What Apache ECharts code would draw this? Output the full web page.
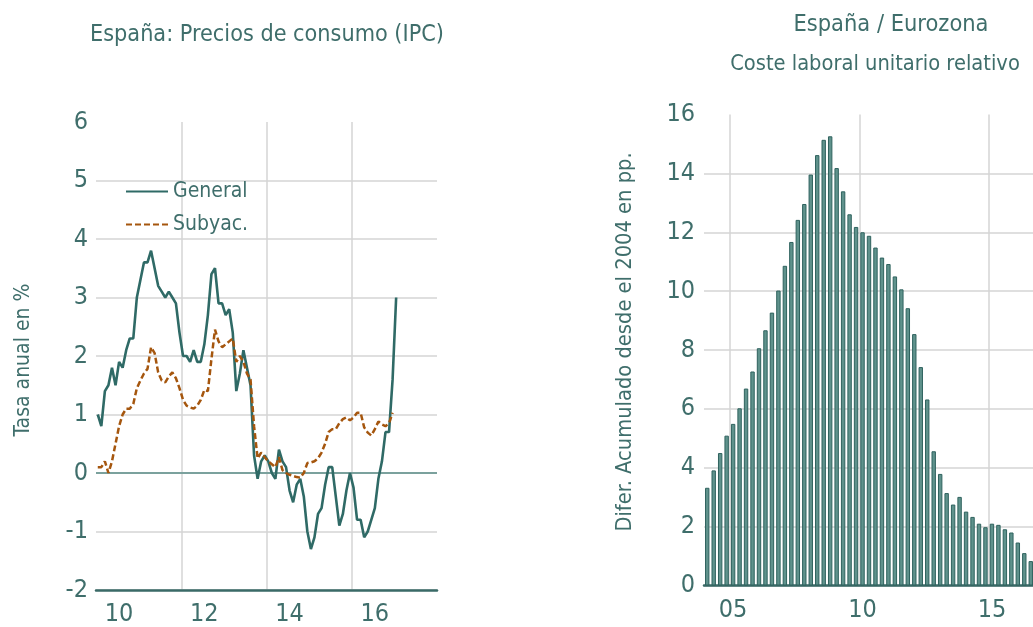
<!DOCTYPE html>
<html>
<head>
  <meta charset="utf-8">
  <title>España: IPC y coste laboral unitario relativo</title>
  <script src="https://cdn.jsdelivr.net/npm/echarts@6/dist/echarts.min.js"></script>
  <style>
    html, body { margin: 0; padding: 0; background: #fff; overflow: hidden; }
    /* el gráfico de la derecha queda cortado por el borde, como en el original */
    #chart { width: 1040px; height: 627px; }
  </style>
</head>
<body>
  <div id="chart"></div>

  <script>
    // IPC general, tasa anual en %, ene-2010 a ene-2017
    const general = [
      1.0, 0.8, 1.4, 1.5, 1.8, 1.5, 1.9, 1.8, 2.1, 2.3, 2.3, 3.0,
      3.3, 3.6, 3.6, 3.8, 3.5, 3.2, 3.1, 3.0, 3.1, 3.0, 2.9, 2.4,
      2.0, 2.0, 1.9, 2.1, 1.9, 1.9, 2.2, 2.7, 3.4, 3.5, 2.9, 2.9,
      2.7, 2.8, 2.4, 1.4, 1.7, 2.1, 1.8, 1.5, 0.3, -0.1, 0.2, 0.3,
      0.2, 0.0, -0.1, 0.4, 0.2, 0.1, -0.3, -0.5, -0.2, -0.1, -0.4, -1.0,
      -1.3, -1.1, -0.7, -0.6, -0.2, 0.1, 0.1, -0.4, -0.9, -0.7, -0.3, 0.0,
      -0.25, -0.8, -0.8, -1.1, -1.0, -0.8, -0.6, -0.1, 0.2, 0.7, 0.7, 1.6,
      3.0
    ];
    // IPC subyacente, ene-2010 a dic-2016
    const subyacente = [
      0.1, 0.1, 0.2, 0.0, 0.2, 0.5, 0.8, 1.0, 1.1, 1.1, 1.18, 1.45,
      1.58, 1.7, 1.78, 2.15, 2.05, 1.72, 1.58, 1.55, 1.65, 1.72, 1.62, 1.45,
      1.25, 1.15, 1.12, 1.1, 1.15, 1.25, 1.42, 1.4, 1.95, 2.45, 2.25, 2.15,
      2.2, 2.25, 2.3, 1.9, 2.0, 1.9, 1.7, 1.6, 0.8, 0.25, 0.35, 0.27,
      0.2, 0.15, 0.1, 0.27, 0.05, 0.0, -0.03, -0.05, -0.07, -0.08, 0.0, 0.17,
      0.18, 0.2, 0.25, 0.35, 0.5, 0.7, 0.75, 0.75, 0.85, 0.92, 0.95, 0.9,
      0.95, 1.03, 1.03, 0.78, 0.69, 0.64, 0.75, 0.88, 0.83, 0.8, 0.85, 1.03
    ];
    const anosIpc = ['10', '11', '12', '13', '14', '15', '16', '17'];
    const meses = ['ene', 'feb', 'mar', 'abr', 'may', 'jun', 'jul', 'ago', 'sep', 'oct', 'nov', 'dic'];

    // España / Eurozona: CLU relativo, difer. acumulada desde 2004 en pp., trimestral desde 2004 T1
    const cluRelativo = [
      3.32, 3.91, 4.50, 5.09, 5.49, 6.02, 6.69, 7.27, 8.06, 8.67, 9.27, 10.02,
      10.86, 11.67, 12.42, 12.96, 13.96, 14.62, 15.14, 15.26, 14.18, 13.39, 12.61, 12.18,
      12.0, 11.88, 11.48, 11.14, 10.92, 10.5, 10.06, 9.42, 8.54, 7.42, 6.32, 4.56,
      3.79, 3.14, 2.75, 3.01, 2.51, 2.33, 2.10, 1.98, 2.10, 2.06, 1.91, 1.80,
      1.46, 1.10, 0.83
    ];
    const anosClu = ['04', '05', '06', '07', '08', '09', '10', '11', '12', '13', '14', '15', '16'];
    const trimestres = ['T1', 'T2', 'T3', 'T4'];

    // categorias de los ejes
    let mesesIpc = [];
    anosIpc.forEach(function (a) { meses.forEach(function (m) { mesesIpc.push(m + ' ' + a); }); });
    let trimClu = [];
    anosClu.forEach(function (a) { trimestres.forEach(function (t) { trimClu.push(t + ' ' + a); }); });
    trimClu = trimClu.slice(0, cluRelativo.length);

    const fuente = '"Liberation Sans Narrow", "DejaVu Sans Condensed", "Roboto", sans-serif';
    const colorTexto = '#3f6e6b';
    const colorEje = '#3a6a67';
    const colorRejilla = '#d4d4d4';

    let myChart = echarts.init(document.getElementById('chart'));

    let option = {
      animation: false,
      textStyle: { fontFamily: fuente },
      title: [
        {
          text: 'España: Precios de consumo (IPC)',
          left: 262, top: 18, textAlign: 'center',
          textStyle: { color: colorTexto, fontSize: 23.2, fontWeight: 'normal', fontFamily: fuente }
        },
        {
          text: 'España / Eurozona',
          left: 886, top: 8, textAlign: 'center',
          textStyle: { color: colorTexto, fontSize: 23.4, fontWeight: 'normal', fontFamily: fuente }
        },
        {
          text: 'Coste laboral unitario relativo',
          left: 870, top: 48, textAlign: 'center',
          textStyle: { color: colorTexto, fontSize: 21.7, fontWeight: 'normal', fontFamily: fuente }
        }
      ],
      legend: {
        orient: 'vertical',
        left: 120, top: 176,
        itemWidth: 42, itemHeight: 14, itemGap: 12,
        data: ['General', 'Subyac.'],
        itemStyle: { opacity: 0 },
        textStyle: { color: colorTexto, fontSize: 21, fontFamily: fuente }
      },
      grid: [
        { left: 96, top: 122, width: 341, height: 471 },
        { left: 704, top: 114.5, width: 330, height: 471 }
      ],
      xAxis: [
        {
          type: 'category', gridIndex: 0, data: mesesIpc, boundaryGap: true,
          axisLine: { onZero: false, lineStyle: { color: colorEje, width: 2.5 } },
          axisTick: {
            interval: function (i) { return i % 12 === 0; },
            length: 6, lineStyle: { color: colorEje, width: 1.5 }
          },
          axisLabel: {
            interval: function (i) { return i % 24 === 6; },
            formatter: function (v) { return v.slice(-2); },
            color: colorTexto, fontSize: 25, margin: 12, fontFamily: fuente
          },
          splitLine: {
            show: true, showMaxLine: false,
            interval: function (i) { return i > 0 && i % 24 === 0; },
            lineStyle: { color: colorRejilla, width: 1.5 }
          }
        },
        {
          type: 'category', gridIndex: 1, data: trimClu, boundaryGap: true,
          axisLine: { onZero: false, lineStyle: { color: colorEje, width: 2.5 } },
          axisTick: {
            alignWithLabel: true,
            interval: function (i) { return i % 20 === 4; },
            length: 6, lineStyle: { color: colorEje, width: 1.5 }
          },
          axisLabel: {
            interval: function (i) { return i % 20 === 4; },
            formatter: function (v) { return v.slice(-2); },
            color: colorTexto, fontSize: 25, margin: 12, fontFamily: fuente
          },
          splitLine: {
            show: true, showMaxLine: false,
            interval: function (i) { return i % 20 === 4; },
            lineStyle: { color: colorRejilla, width: 1.5 }
          }
        }
      ],
      yAxis: [
        {
          type: 'value', gridIndex: 0, min: -2, max: 6, interval: 1,
          name: 'Tasa anual en %', nameLocation: 'middle', nameGap: 62,
          nameTextStyle: { color: colorTexto, fontSize: 21, fontFamily: fuente, padding: [0, 8, 0, 0] },
          axisLine: { show: false }, axisTick: { show: false },
          axisLabel: { color: colorTexto, fontSize: 25, margin: 8, fontFamily: fuente },
          splitLine: { showMaxLine: false, lineStyle: { color: colorRejilla, width: 1.5 } }
        },
        {
          type: 'value', gridIndex: 1, min: 0, max: 16, interval: 2,
          name: 'Difer. Acumulado desde el 2004 en pp.', nameLocation: 'middle', nameGap: 68,
          nameTextStyle: { color: colorTexto, fontSize: 21.7, fontFamily: fuente, padding: [0, 0, 0, 16] },
          axisLine: { show: false }, axisTick: { show: false },
          axisLabel: { color: colorTexto, fontSize: 25, margin: 9, fontFamily: fuente },
          splitLine: { showMaxLine: false, lineStyle: { color: colorRejilla, width: 1.5 } }
        }
      ],
      series: [
        {
          name: 'General', type: 'line', xAxisIndex: 0, yAxisIndex: 0,
          data: general, symbol: 'none',
          lineStyle: { color: '#2f6a66', width: 2.6 },
          itemStyle: { color: '#2f6a66' },
          markLine: {
            silent: true, symbol: ['none', 'none'], z: 1,
            label: { show: false },
            lineStyle: { color: '#7ba19d', type: 'solid', width: 2 },
            data: [{ yAxis: 0 }]
          }
        },
        {
          name: 'Subyac.', type: 'line', xAxisIndex: 0, yAxisIndex: 0,
          data: subyacente, symbol: 'none',
          lineStyle: { color: '#a5560e', width: 2.5, type: [6, 3] },
          itemStyle: { color: '#a5560e' }
        },
        {
          name: 'CLU relativo', type: 'bar', xAxisIndex: 1, yAxisIndex: 1,
          data: cluRelativo, barWidth: '68%',
          itemStyle: { color: '#5f928c', borderColor: '#2f625e', borderWidth: 1 }
        }
      ]
    };
    myChart.setOption(option);
  </script>
</body>
</html>
